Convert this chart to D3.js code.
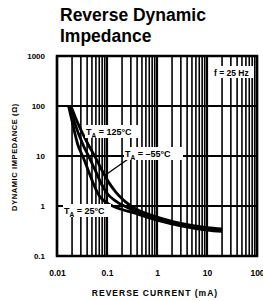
<!DOCTYPE html>
<html><head><meta charset="utf-8">
<script src="https://cdn.jsdelivr.net/npm/d3@7/dist/d3.min.js"></script>
<style>body{margin:0;background:#fff}svg{display:block}text{font-family:"Liberation Sans",Arial,sans-serif;fill:#000}</style>
</head><body><div id="c"></div>
<script>
const xTicks = [0.01, 0.1, 1, 10, 100];
const xTickLabels = ["0.01", "0.1", "1", "10", "100"];
const yTicks = [0.1, 1, 10, 100, 1000];
const yTickLabels = ["0.1", "1", "10", "100", "1000"];
const currentA = [0.017,0.02,0.026,0.034,0.042,0.055,0.07,0.1,0.2,0.3,1,3,10,20];
const impedanceA = [100,50,17,9,5.2,2.6,1.6,1.15,0.85,0.76,0.52,0.4,0.33,0.31];
const currentB = [0.018,0.022,0.033,0.045,0.058,0.08,0.1,0.15,0.3,1,3,10,20];
const impedanceB = [100,50,17,9,5.2,2.6,1.8,1.25,0.87,0.56,0.42,0.35,0.33];
const currentC = [0.019,0.025,0.042,0.06,0.079,0.11,0.15,0.2,0.3,1,3,10,20];
const impedanceC = [100,50,17,9,5.2,2.9,1.9,1.4,1.0,0.6,0.45,0.37,0.35];

const W=263,H=301, L=57, R=257, T=56, B=256;
const svg=d3.select("#c").append("svg").attr("width",W).attr("height",H);
const x=d3.scaleLog().domain([0.01,100]).range([L,R]);
const y=d3.scaleLog().domain([0.1,1000]).range([B,T]);

// title
svg.append("text").attr("x",60).attr("y",21).attr("font-size",17.5).attr("font-weight","bold").text("Reverse Dynamic");
svg.append("text").attr("x",60).attr("y",42).attr("font-size",17.5).attr("font-weight","bold").text("Impedance");

// minor vertical grid
const minorX=[];
for(let d=0.01; d<100; d*=10) for(let k=2;k<=9;k++) minorX.push(d*k);
svg.append("g").selectAll("line").data(minorX).join("line")
 .attr("x1",d=>x(d)).attr("x2",d=>x(d)).attr("y1",T).attr("y2",B)
 .attr("stroke","#000").attr("stroke-width",1.6);
svg.append("g").selectAll("line").data(xTicks).join("line")
 .attr("x1",d=>x(d)).attr("x2",d=>x(d)).attr("y1",T).attr("y2",B)
 .attr("stroke","#000").attr("stroke-width",2.2);
svg.append("g").selectAll("line").data(yTicks).join("line")
 .attr("x1",L).attr("x2",R).attr("y1",d=>y(d)).attr("y2",d=>y(d))
 .attr("stroke","#000").attr("stroke-width",2.2);
svg.append("rect").attr("x",L).attr("y",T).attr("width",R-L).attr("height",B-T)
 .attr("fill","none").attr("stroke","#000").attr("stroke-width",2.5);

// axes labels
const xa=d3.axisBottom(x).tickValues(xTicks).tickFormat((d,i)=>xTickLabels[i]).tickSize(0).tickPadding(14);
const gx=svg.append("g").attr("transform",`translate(0,${B})`).call(xa);
gx.select(".domain").remove();
gx.selectAll("text").attr("font-size",8.5).attr("font-weight","bold").attr("font-family","Liberation Sans, Arial");
const ya=d3.axisLeft(y).tickValues(yTicks).tickFormat((d,i)=>yTickLabels[i]).tickSize(0).tickPadding(12);
const gy=svg.append("g").attr("transform",`translate(${L},0)`).call(ya);
gy.select(".domain").remove();
gy.selectAll("text").attr("font-size",8).attr("font-weight","bold").attr("font-family","Liberation Sans, Arial");

svg.append("text").attr("x",155).attr("y",296).attr("text-anchor","middle").attr("font-size",8.5)
 .attr("font-weight","bold").attr("letter-spacing",1).text("REVERSE CURRENT (mA)");
svg.append("text").attr("transform","translate(17,157) rotate(-90)").attr("text-anchor","middle")
 .attr("font-size",7.5).attr("font-weight","bold").attr("letter-spacing",0.6).text("DYNAMIC IMPEDANCE (Ω)");

// curves
const line=d3.line().x(d=>x(d[0])).y(d=>y(d[1])).curve(d3.curveMonotoneX);
[[currentA,impedanceA],[currentB,impedanceB],[currentC,impedanceC]].forEach(([c,z])=>{
  svg.append("path").attr("d",line(c.map((v,i)=>[v,z[i]]))).attr("fill","none")
   .attr("stroke","#000").attr("stroke-width",2.8);
});

// annotations
function label(tx,ty,parts,w){
  svg.append("rect").attr("x",tx-1).attr("y",ty-10).attr("width",w).attr("height",13).attr("fill","#fff");
  const t=svg.append("text").attr("x",tx).attr("y",ty).attr("font-size",9).attr("font-weight","bold");
  t.append("tspan").text("T");
  t.append("tspan").attr("font-size",6.5).attr("dy",3).text("A");
  t.append("tspan").attr("dy",-3).text(parts);
}
svg.append("line").attr("x1",131).attr("y1",157).attr("x2",104).attr("y2",176).attr("stroke","#000").attr("stroke-width",1.3);
label(86,135,"  = 125°C",54);
label(125,157,"  = –55°C",59);
label(64,214,"  = 25°C",48);
svg.append("rect").attr("x",212).attr("y",66).attr("width",42).attr("height",12).attr("fill","#fff");
svg.append("text").attr("x",214).attr("y",76).attr("font-size",8.5).attr("font-weight","bold").text("f = 25 Hz");
</script></body></html>
